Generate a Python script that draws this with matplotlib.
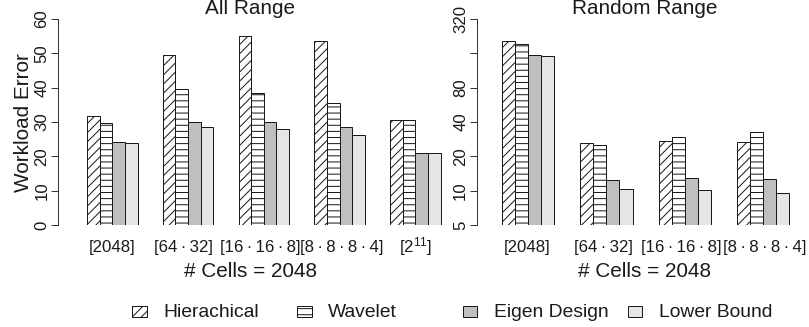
import numpy as np
import matplotlib
matplotlib.use("Agg")
import matplotlib.pyplot as plt
from matplotlib.patches import Rectangle
from matplotlib.ticker import FixedLocator, FixedFormatter
from matplotlib.transforms import ScaledTranslation

# ---------------- data ----------------
series = ["Hierachical", "Wavelet", "Eigen Design", "Lower Bound"]

SEP = "\u2009\u00b7\u2009"
all_labels = ["[2048]", "[64" + SEP + "32]", "[16" + SEP + "16" + SEP + "8]",
              "[8" + SEP + "8" + SEP + "8" + SEP + "4]", r"[$2^{11}$]"]
all_hier = [31.8, 49.6, 55.1, 53.7, 30.6]
all_wave = [29.8, 39.5, 38.4, 35.4, 30.6]
all_eigen = [24.3, 30.1, 29.9, 28.5, 20.9]
all_lower = [24.0, 28.6, 27.9, 26.3, 20.9]

rand_labels = ["[2048]", "[64" + SEP + "32]", "[16" + SEP + "16" + SEP + "8]",
               "[8" + SEP + "8" + SEP + "8" + SEP + "4]"]
rand_hier = [203.6, 26.0, 27.4, 26.5]
rand_wave = [191.7, 25.1, 29.7, 32.7]
rand_eigen = [155.7, 12.4, 12.8, 12.6]
rand_lower = [150.4, 10.3, 10.1, 9.6]

all_yticks = [0, 10, 20, 30, 40, 50, 60]
rand_yticks = [5, 10, 20, 40, 80, 160, 320]
rand_yticklabels = ["5", "10", "20", "40", "80", "", "320"]

xlabel = "# Cells = 2048"
ylabel = "Workload Error"

# ---------------- style ----------------
DPI = 110
W, H = 809, 327
def pt(px):
    return px * 72.0 / DPI

plt.rcParams['font.family'] = ['Liberation Sans', 'DejaVu Sans']
plt.rcParams['mathtext.fontset'] = 'custom'
plt.rcParams['mathtext.rm'] = 'Liberation Sans'
plt.rcParams['mathtext.it'] = 'Liberation Sans'
plt.rcParams['hatch.linewidth'] = pt(1.0)
plt.rcParams['hatch.color'] = '#1a1a1a'

fills = ['white', 'white', '#bfbfbf', '#e5e5e5']
hatches = ['////', '---', None, None]
edge = '#1a1a1a'
txt = '#1a1a1a'

FS_TICK = pt(16.8)
FS_LAB = pt(20.7)
FS_LEG = pt(19.2)

# small horizontal nudges (px) of the group labels, as in the reference
left_nudge_px = [-0.6, -4.6, -3.5, 2.2, 0.0]
right_nudge_px = [-1.3, -2.5, -3.5, 2.0]

fig = plt.figure(figsize=(W / DPI, H / DPI), dpi=DPI)

def make_axes(left_px, right_px, top_px=19, bottom_px=225):
    return fig.add_axes([left_px / W, (H - bottom_px) / H,
                         (right_px - left_px) / W, (bottom_px - top_px) / H])

def draw_panel(ax, data, unit_px, width_px, first_off, labels):
    n = len(labels)
    starts = first_off + 6 * np.arange(n)
    for j, vals in enumerate(data):
        ax.bar(starts + j, vals, width=1.0, align='edge', color=fills[j],
               edgecolor=edge, linewidth=pt(1.0), hatch=hatches[j])
    ax.set_xlim(0, width_px / unit_px)
    ax.set_xticks(starts + 2)
    ax.set_xticklabels(labels)
    for s in ['top', 'right', 'bottom']:
        ax.spines[s].set_visible(False)
    ax.spines['left'].set_linewidth(pt(1.0))
    ax.spines['left'].set_color('#333333')
    ax.tick_params(axis='x', length=0, pad=pt(27), labelsize=FS_TICK, colors=txt)
    ax.tick_params(axis='y', length=pt(7), width=pt(1.0), pad=pt(1.5),
                   labelsize=FS_TICK, labelrotation=90, colors='#333333',
                   labelcolor=txt)

def finish_labels(ax, nudges):
    for lab in ax.get_yticklabels():
        lab.set_va('center')
    for lab, dx in zip(ax.get_xticklabels(), nudges):
        lab.set_va('baseline')
        lab.set_transform(lab.get_transform() +
                          ScaledTranslation(dx / DPI, 0, fig.dpi_scale_trans))

# ---- left panel: All Range ----
L0, L1 = 58, 442
axL = make_axes(L0, L1)
axL.set_ylim(0, 60)
draw_panel(axL, [all_hier, all_wave, all_eigen, all_lower], 12.625, L1 - L0,
           (87 - L0) / 12.625, all_labels)
axL.set_yticks(all_yticks)
axL.set_ylim(0, 60)
axL.set_title("All Range", fontsize=FS_LAB, x=(250 - L0) / (L1 - L0),
              y=1 + 5.5 / 206, pad=0, color=txt)
axL.set_xlabel(xlabel, fontsize=FS_LAB, color=txt)
axL.xaxis.set_label_coords((250 - L0) / (L1 - L0), -(262.0 - 225) / 206)
axL.set_ylabel(ylabel, fontsize=FS_LAB, color=txt, va='center')
axL.yaxis.set_label_coords((24 - L0) / (L1 - L0), (225 - 122.5) / 206)
finish_labels(axL, left_nudge_px)

# ---- right panel: Random Range ----
R0, R1 = 476.7, 800
axR = make_axes(R0, R1)
axR.set_yscale('log', base=2)
axR.set_ylim(5, 320)
draw_panel(axR, [rand_hier, rand_wave, rand_eigen, rand_lower], 13.05, R1 - R0,
           (502 - R0) / 13.05, rand_labels)
axR.yaxis.set_major_locator(FixedLocator(rand_yticks))
axR.yaxis.set_major_formatter(FixedFormatter(rand_yticklabels))
axR.yaxis.set_minor_locator(FixedLocator([]))
axR.set_ylim(5, 320)
axR.set_title("Random Range", fontsize=FS_LAB, x=(645 - R0) / (R1 - R0),
              y=1 + 5.5 / 206, pad=0, color=txt)
axR.set_xlabel(xlabel, fontsize=FS_LAB, color=txt)
axR.xaxis.set_label_coords((645 - R0) / (R1 - R0), -(262.0 - 225) / 206)
finish_labels(axR, right_nudge_px)

# ---- legend (R-style equal columns) ----
for i, name in enumerate(series):
    bx = 132 + 165.3 * i
    by = 311
    fig.add_artist(Rectangle((bx / W, (H - by - 5.5) / H), 14.5 / W, 11 / H,
                             transform=fig.transFigure, facecolor=fills[i],
                             edgecolor=edge, linewidth=pt(1.0), hatch=hatches[i]))
    fig.text((bx + 31) / W, (H - by - 1.5) / H, name, fontsize=FS_LEG, va='center',
             ha='left', color=txt)

fig.savefig("out.png", dpi=DPI)
